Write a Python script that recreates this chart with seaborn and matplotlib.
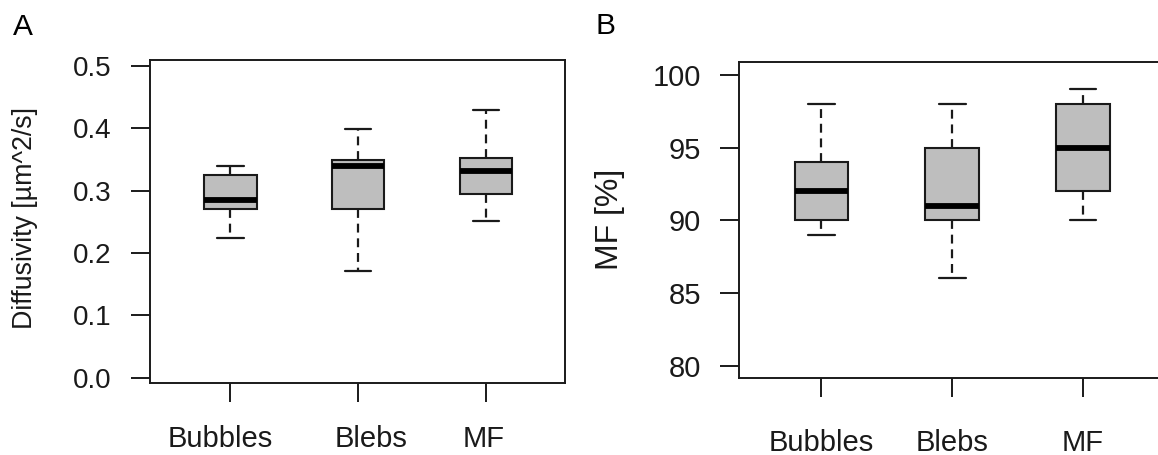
import numpy as np
import pandas as pd
import matplotlib
matplotlib.use("Agg")
import matplotlib.pyplot as plt
import matplotlib.transforms as mtransforms
import seaborn as sns

# ---- data (five-number summaries) ----
categories = ["Bubbles", "Blebs", "MF"]
diff_bubbles = [0.224, 0.270, 0.285, 0.325, 0.339]
diff_blebs = [0.171, 0.270, 0.340, 0.349, 0.399]
diff_mf = [0.252, 0.295, 0.332, 0.352, 0.430]
mf_bubbles = [89, 90, 92, 94, 98]
mf_blebs = [86, 90, 91, 95, 98]
mf_mf = [90, 92, 95, 98, 99]
diff_ticks = [0.0, 0.1, 0.2, 0.3, 0.4, 0.5]
mf_ticks = [80, 85, 90, 95, 100]

df_a = pd.DataFrame({
    "group": np.repeat(categories, 5),
    "value": diff_bubbles + diff_blebs + diff_mf,
})
df_b = pd.DataFrame({
    "group": np.repeat(categories, 5),
    "value": mf_bubbles + mf_blebs + mf_mf,
})

sns.set_style("white")
plt.rcParams["font.family"] = ["Liberation Sans", "DejaVu Sans"]
TXT = "#1a1a1a"

fig = plt.figure(figsize=(11.58, 4.55), dpi=100)
W, H = 1158, 455


def ax_at(l, t, r, b):
    return fig.add_axes([l / W, 1 - b / H, (r - l) / W, (b - t) / H])


ax_a = ax_at(150, 60, 565, 383)
ax_b = ax_at(739, 62, 1164, 378)

box_kw = dict(
    x="group", y="value", order=categories, color="#BEBEBE", linecolor="#1a1a1a",
    width=0.41, linewidth=1.5, showfliers=False, saturation=1,
    medianprops=dict(color="black", linewidth=4.2),
    whiskerprops=dict(linestyle=(0, (4.0, 2.6)), linewidth=1.6),
    capprops=dict(linestyle="-", linewidth=1.6),
)

sns.boxplot(data=df_a, ax=ax_a, **box_kw)
sns.boxplot(data=df_b, ax=ax_b, **box_kw)

for ax, ylim, ticks, ytick_fs, xpad in (
    (ax_a, (-0.0086, 0.5097), diff_ticks, 20, 17),
    (ax_b, (79.15, 100.89), mf_ticks, 21, 23),
):
    ax.set_xlim(-0.63, 2.62)
    ax.set_ylim(*ylim)
    ax.set_yticks(ticks)
    if ax is ax_a:
        ax.set_yticklabels([f"{t:.1f}" for t in ticks])
    ax.set_xlabel("")
    ax.set_ylabel("")
    for s in ax.spines.values():
        s.set_visible(True)
        s.set_color("#1a1a1a")
        s.set_linewidth(1.4)
    ax.tick_params(axis="both", direction="out", length=13.5, width=1.4,
                   color="#1a1a1a", labelcolor=TXT,
                   bottom=True, left=True, top=False, right=False)
    ax.tick_params(axis="y", labelsize=ytick_fs, pad=14)
    ax.tick_params(axis="x", labelsize=21, pad=xpad)
    ax.grid(False)

# slight horizontal offsets of the x labels in panel A (as in the reference)
offsets_a = [-10, 13, -2]
for lab, dx in zip(ax_a.get_xticklabels(), offsets_a):
    lab.set_transform(lab.get_transform() +
                      mtransforms.ScaledTranslation(dx / 100, 0, fig.dpi_scale_trans))

fig.text(25 / W, 1 - 218 / H, "Diffusivity [µm^2/s]", rotation=90,
         ha="center", va="center", fontsize=19.3, color=TXT)
fig.text(610 / W, 1 - 219 / H, "MF [%]", rotation=90,
         ha="center", va="center", fontsize=23, color=TXT)
fig.text(23 / W, 1 - 27 / H, "A", ha="center", va="center", fontsize=21.5, color="black")
fig.text(606 / W, 1 - 26 / H, "B", ha="center", va="center", fontsize=21.5, color="black")

fig.savefig("out.png", dpi=100)
